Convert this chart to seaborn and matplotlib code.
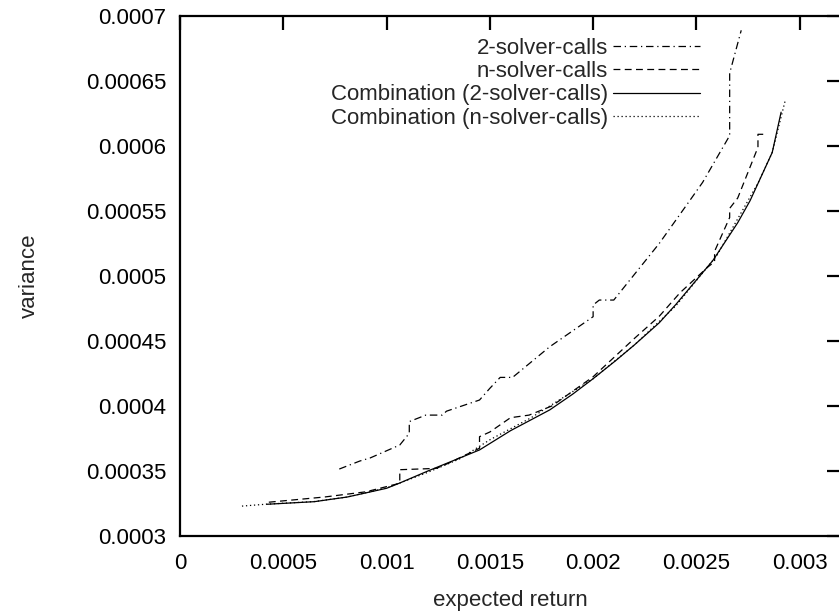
import numpy as np
import pandas as pd
import matplotlib
matplotlib.use("Agg")
import matplotlib.pyplot as plt
from matplotlib.ticker import MultipleLocator, FuncFormatter
import seaborn as sns

# Efficient-frontier style curves: expected return vs. variance
two_calls_x = [0.000771, 0.000871, 0.00092, 0.001064, 0.00111, 0.00111, 0.00119, 0.00127,
               0.00129, 0.00145, 0.0015, 0.00155, 0.00161, 0.00179, 0.002, 0.002, 0.00203,
               0.0021, 0.00232, 0.00247, 0.00253, 0.002661, 0.002661, 0.002717]
two_calls_y = [0.0003515, 0.0003577, 0.000360, 0.000370, 0.000379, 0.000388, 0.000393, 0.000393,
               0.000396, 0.0004046, 0.0004136, 0.000422, 0.000422, 0.0004456, 0.0004687, 0.0004777,
               0.0004815, 0.0004815, 0.000525, 0.0005585, 0.000572, 0.000608, 0.000656, 0.000689]

n_calls_x = [0.00043, 0.0007, 0.0009, 0.00105, 0.001064, 0.001064, 0.00124, 0.0013, 0.00145,
             0.00145, 0.0015, 0.0016, 0.00169, 0.0018, 0.002, 0.0022, 0.00232, 0.00242,
             0.002556, 0.002588, 0.002588, 0.002661, 0.002661, 0.0027, 0.002798, 0.002798, 0.00283]
n_calls_y = [0.000326, 0.000330, 0.000334, 0.000340, 0.000341, 0.000351, 0.000352, 0.000356,
             0.0003675, 0.0003764, 0.000380, 0.000391, 0.000393, 0.000400, 0.0004225, 0.000452,
             0.000469, 0.000487, 0.000507, 0.000511, 0.000519, 0.000545, 0.000552, 0.000560,
             0.000599, 0.000609, 0.000609]

comb_two_x = [0.00042, 0.00065, 0.00081, 0.0010, 0.00106, 0.0012, 0.00145, 0.0016, 0.00179,
              0.0019, 0.002, 0.00211, 0.0022, 0.00232, 0.0024, 0.00258, 0.0027, 0.00276,
              0.002867, 0.00291]
comb_two_y = [0.0003244, 0.0003264, 0.000330, 0.0003367, 0.0003405, 0.000350, 0.0003662,
              0.000381, 0.000397, 0.000409, 0.000421, 0.000435, 0.000447, 0.000464, 0.000478,
              0.000512, 0.000541, 0.000558, 0.000595, 0.000626]

comb_n_x = [0.0003, 0.00042, 0.00065, 0.00081, 0.0010, 0.00106, 0.0012, 0.00135, 0.0015,
            0.0017, 0.002, 0.0022, 0.0024, 0.0026, 0.0028, 0.002867, 0.00293]
comb_n_y = [0.000323, 0.0003245, 0.0003265, 0.000330, 0.000337, 0.0003405, 0.000349, 0.000359,
            0.000374, 0.000391, 0.000421, 0.000447, 0.000477, 0.000516, 0.000572, 0.000595,
            0.000635]

labels = ["2-solver-calls", "n-solver-calls",
          "Combination (2-solver-calls)", "Combination (n-solver-calls)"]
series_x = [two_calls_x, n_calls_x, comb_two_x, comb_n_x]
series_y = [two_calls_y, n_calls_y, comb_two_y, comb_n_y]

frames = []
for lab, xs, ys in zip(labels, series_x, series_y):
    frames.append(pd.DataFrame({"expected return": xs, "variance": ys, "series": lab}))
df = pd.concat(frames, ignore_index=True)

sns.set_style("white")
plt.rcParams["font.family"] = ["Liberation Sans", "DejaVu Sans"]
plt.rcParams["font.size"] = 16

fig = plt.figure(figsize=(8.39, 6.12), dpi=100)
ax = fig.add_axes([180 / 839, 1 - 536 / 612, 661 / 839, 520 / 612])

dash_styles = {
    labels[0]: (6, 3, 1, 3),
    labels[1]: (5.5, 3.5),
    labels[2]: "",
    labels[3]: (1, 2.2),
}
sns.lineplot(data=df, x="expected return", y="variance", style="series",
             style_order=labels, dashes=dash_styles, color="black",
             estimator=None, sort=False, linewidth=0.9, ax=ax, legend=True)

ax.set_xlim(0, 0.0032)
ax.set_ylim(0.0003, 0.0007)
ax.xaxis.set_major_locator(MultipleLocator(0.0005))
ax.yaxis.set_major_locator(MultipleLocator(0.00005))
fmt = FuncFormatter(lambda v, p: f"{v:g}")
ax.xaxis.set_major_formatter(fmt)
ax.yaxis.set_major_formatter(fmt)
ax.tick_params(direction="in", top=True, right=True, length=10, width=1.6,
               labelsize=16, pad=10, colors="black")
ax.tick_params(axis="x", pad=12)
for sp in ax.spines.values():
    sp.set_linewidth(1.6)
    sp.set_color("black")
    sp.set_visible(True)

ax.set_xlabel("expected return", fontsize=16, labelpad=12)
ax.set_ylabel("variance", fontsize=16, labelpad=33)

handles, _ = ax.get_legend_handles_labels()
leg = ax.legend(handles=handles, labels=labels, loc="upper right",
                bbox_to_anchor=((700 - 180) / 661, 1 - (38 - 16) / 520),
                frameon=False, markerfirst=False, handlelength=3.9,
                handletextpad=0.25, labelspacing=0.1, borderpad=0,
                borderaxespad=0, fontsize=16)

fig.savefig("out.png", dpi=100)
